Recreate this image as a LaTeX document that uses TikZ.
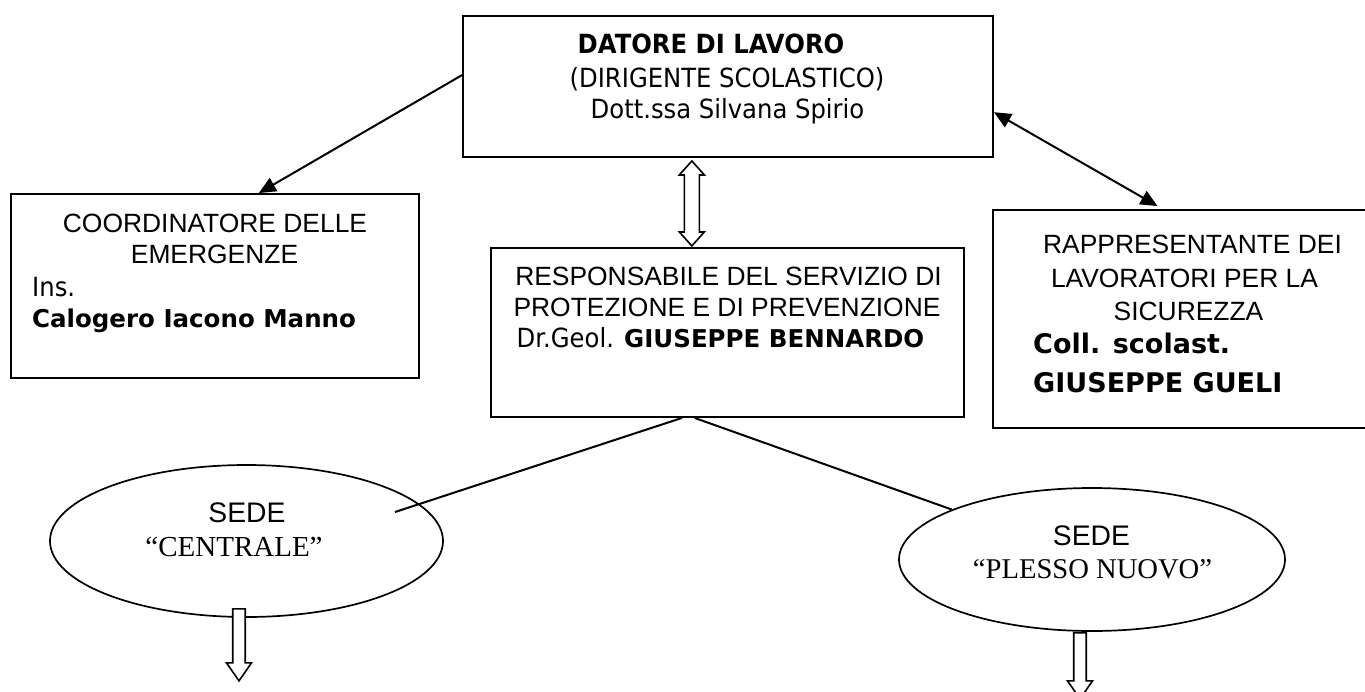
\documentclass[tikz,border=0pt]{standalone}
\usepackage{fontspec}
\setmainfont{Liberation Sans}
\newfontfamily\tahoma[FakeStretch=0.92]{DejaVu Sans}
\newfontfamily\verdana{DejaVu Sans}
\newfontfamily\timesfont{Liberation Serif}
\usetikzlibrary{shapes.geometric,arrows.meta,calc}
\newcommand{\fs}[1]{\fontsize{#1}{#1}\selectfont}
\tikzset{
  hollow/.style={draw,line width=1.6pt,fill=white,line join=miter},
  pics/updown/.style={code={
    \path[hollow] (0,0) -- (12.5,14) -- (7.5,14) -- (7.5,71) -- (12.5,71) -- (0,85)
      -- (-12.5,71) -- (-7.5,71) -- (-7.5,14) -- (-12.5,14) -- cycle;}},
  pics/downarr/.style={code={
    \path[hollow] (-6.25,0) -- (6.25,0) -- (6.25,#1) -- (12.5,#1) -- (0,#1+18)
      -- (-12.5,#1) -- (-6.25,#1) -- cycle;}}
}
\begin{document}
\begin{tikzpicture}[x=1pt,y=-1pt,
  box/.style={draw,line width=1.9pt,inner sep=0},
  sedeell/.style={draw,ellipse,line width=1.7pt,inner sep=0},
  txt/.style={anchor=base,inner sep=0},
  link/.style={line width=2pt},
  tip/.style={-{Triangle[length=17pt,width=15pt]}}]
\useasboundingbox (0,0) rectangle (1365,691);
\clip (0,0) rectangle (1365,691);
% boxes and sedi
\node[box,minimum width=530pt,minimum height=141pt] (dat) at (728,86.5) {};
\node[box,minimum width=408pt,minimum height=184pt] (coord) at (215,286) {};
\node[box,minimum width=473pt,minimum height=169pt] (rspp) at (727.5,332.5) {};
\node[box,minimum width=380pt,minimum height=218pt] (rls) at (1183,319) {};
\node[sedeell,minimum width=393pt,minimum height=152pt] (cen) at (246.5,541) {};
\node[sedeell,minimum width=386pt,minimum height=143pt] (ple) at (1092,559.5) {};
% datore di lavoro
\node[txt] (dattit) at (711,53) {\tahoma\bfseries\fs{26.4}DATORE DI LAVORO};
\node[txt] (datrole) at (727,87) {\tahoma\fs{26.4}(DIRIGENTE SCOLASTICO)};
\node[txt] (datname) at (727.5,118) {\tahoma\fs{26.4}Dott.ssa Silvana Spirio};
% coordinatore
\node[txt] (coordl1) at (215,232) {\fs{26.4}COORDINATORE DELLE};
\node[txt] (coordl2) at (214.5,263) {\fs{26.4}EMERGENZE};
\node[txt,anchor=base west] (coordins) at (32,296) {\tahoma\fs{26.4}Ins.};
\node[txt,anchor=base west] (coordname) at (32,327) {\verdana\bfseries\fs{24.5}Calogero Iacono Manno};
% responsabile
\node[txt] (rsppl1) at (728.5,285) {\fs{26.4}RESPONSABILE DEL SERVIZIO DI};
\node[txt] (rsppl2) at (727,316) {\fs{26.4}PROTEZIONE E DI PREVENZIONE};
\node[txt] (rsppname) at (720.5,347) {\tahoma\fs{26.4}Dr.Geol. \verdana\bfseries\fs{24.5}GIUSEPPE BENNARDO};
% rappresentante
\node[txt] (rlsl1) at (1192.5,253) {\fs{26.4}RAPPRESENTANTE DEI};
\node[txt] (rlsl2) at (1184.5,287) {\fs{26.4}LAVORATORI PER LA};
\node[txt] (rlsl3) at (1188.5,320) {\fs{26.4}SICUREZZA};
\node[txt,anchor=base west] (rlsrole) at (1033,353) {\verdana\bfseries\fs{27}Coll. scolast.};
\node[txt,anchor=base west] (rlsname) at (1033,392) {\verdana\bfseries\fs{27}GIUSEPPE GUELI};
% sedi
\node[txt] (cenl1) at (247,522) {\fs{28.3}SEDE};
\node[txt] (cenl2) at (234,556) {\timesfont\fs{29}“CENTRALE”};
\node[txt] (plel1) at (1091.5,545) {\fs{28.3}SEDE};
\node[txt] (plel2) at (1092.5,578) {\timesfont\fs{28.6}“PLESSO NUOVO”};
% connectors
\draw[link,tip] ($(dat.north west)!0.42!(dat.south west)$) -- ($(coord.north west)!0.607!(coord.north east)$);
\draw[link,{Triangle[length=17pt,width=15pt]}-{Triangle[length=17pt,width=15pt]},shorten >=6pt]
  ($(dat.north east)!0.68!(dat.south east)$) -- ($(rls.north west)!0.447!(rls.north east)$);
\pic at ($(dat.south west)!0.432!(dat.south east)+(0,3)$) {updown};
\coordinate (cenend) at ($(cen.center)+(148.5,-29)$);
\draw[link] ($(rspp.south west)!0.404!(rspp.south east)$) -- (cenend);
\draw[link] ($(rspp.south west)!0.431!(rspp.south east)$) -- (ple);
\pic at ($(cen.south)+(-7.5,-9)$) {downarr=54};
\pic at ($(ple.south)+(-12,1)$) {downarr=48};
\end{tikzpicture}
\end{document}
